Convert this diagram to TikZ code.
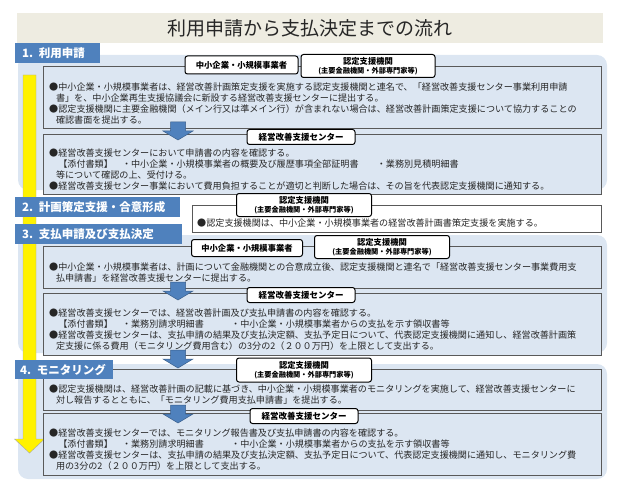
\documentclass[tikz,border=0pt]{standalone}
\usepackage{fontspec}
\setmainfont{Noto Sans CJK JP}
\definecolor{titelbg}{RGB}{238,236,225}
\definecolor{tabblau}{RGB}{79,129,189}
\definecolor{hellblau}{RGB}{220,230,242}
\definecolor{rahmen}{RGB}{89,89,89}
\definecolor{pfeilrand}{RGB}{56,93,138}
\begin{document}
\begin{tikzpicture}[x=1pt, y=-1pt,
    kasten/.style={draw=rahmen, line width=0.8pt, fill=hellblau},
    reiter/.style={fill=tabblau, text=white, font=\bfseries\fontsize{11.5}{13}\selectfont,
      inner xsep=7pt, inner ysep=0pt, minimum height=20pt, anchor=north west, align=left},
    etikett/.style={draw=black, line width=1pt, fill=white, rounded corners=2.5pt,
      font=\bfseries\fontsize{8.3}{9.5}\selectfont, inner sep=1pt, align=center},
    fliess/.style={anchor=west, inner sep=0pt, align=left, text=black!85,
      font=\fontsize{9.1}{11}\selectfont},
    blaupfeil/.style={fill=tabblau, draw=pfeilrand, line width=0.5pt}]
  \useasboundingbox (0,0) rectangle (620,489);

  % Titel
  \fill[titelbg] (17,13) rectangle (603,43);
  \node[font=\fontsize{19}{22}\selectfont, text=black!85] (titel) at (310,28) {利用申請から支払決定までの流れ};

  % Hintergrundflaechen
  \fill[hellblau, rounded corners=10pt] (18,55) rectangle (607,190);
  \fill[hellblau, rounded corners=10pt] (18,235) rectangle (607,353);
  \fill[hellblau, rounded corners=10pt] (18,364) rectangle (607,479);

  % gelber Pfeil links
  \filldraw[fill=yellow, draw=black!35, line width=0.4pt] (23,75) -- (36,75) -- (36,439)
    -- (44.5,439) -- (29.5,453) -- (14.5,439) -- (23,439) -- cycle;

  % Kaesten
  \draw[kasten] (43,66) rectangle (601,128);
  \draw[kasten] (43,134) rectangle (601,194);
  \draw[kasten, fill=white] (192,205) rectangle (601,232);
  \draw[kasten] (43,246) rectangle (601,288);
  \draw[kasten] (43,293) rectangle (601,355);
  \draw[kasten] (43,369) rectangle (601,410);
  \draw[kasten] (43,413) rectangle (601,475);

  % Reiter
  \node[reiter, text width=71pt] (r1) at (15,43) {1. 利用申請};
  \node[reiter, text width=151pt] (r2) at (15,197) {2. 計画策定支援・合意形成};
  \node[reiter, text width=153pt] (r3) at (15,224) {3. 支払申請及び支払決定};
  \node[reiter, text width=88pt, inner xsep=5pt, minimum height=19pt] (r4) at (15,360) {4. モニタリング};

  % blaue Pfeile
  \foreach \y in {122,282,350,405}
    \filldraw[blaupfeil] (170.5,\y) -- (185.5,\y) -- (185.5,\y+9) -- (193,\y+9)
      -- (178,\y+18) -- (163,\y+9) -- (170.5,\y+9) -- cycle;

  % Texte
  \node[fliess] (t1a) at (49,103.5) {●中小企業・小規模事業者は、経営改善計画策定支援を実施する認定支援機関と連名で、「経営改善支援センター事業利用申請\\
    \hspace*{0.75em}書」を、中小企業再生支援協議会に新設する経営改善支援センターに提出する。\\
    ●認定支援機関に主要金融機関（メイン行又は準メイン行）が含まれない場合は、経営改善計画策定支援について協力することの\\
    \hspace*{0.75em}確認書面を提出する。};
  \node[fliess] (t1b) at (49,169.5) {●経営改善支援センターにおいて申請書の内容を確認する。\\
    \hspace*{1em}【添付書類】　・中小企業・小規模事業者の概要及び履歴事項全部証明書　　・業務別見積明細書\\
    \hspace*{0.75em}等について確認の上、受付ける。\\
    ●経営改善支援センター事業において費用負担することが適切と判断した場合は、その旨を代表認定支援機関に通知する。};
  \node[fliess] (t2) at (197,223) {●認定支援機関は、中小企業・小規模事業者の経営改善計画書策定支援を実施する。};
  \node[fliess] (t3a) at (49,272.5) {●中小企業・小規模事業者は、計画について金融機関との合意成立後、認定支援機関と連名で「経営改善支援センター事業費用支\\
    \hspace*{0.75em}払申請書」を経営改善支援センターに提出する。};
  \node[fliess] (t3b) at (49,330) {●経営改善支援センターでは、経営改善計画及び支払申請書の内容を確認する。\\
    \hspace*{1em}【添付書類】　・業務別請求明細書　　　・中小企業・小規模事業者からの支払を示す領収書等\\
    ●経営改善支援センターは、支払申請の結果及び支払決定額、支払予定日について、代表認定支援機関に通知し、経営改善計画策\\
    \hspace*{0.75em}定支援に係る費用（モニタリング費用含む）の3分の2（２００万円）を上限として支出する。};
  \node[fliess] (t4a) at (49,394.5) {●認定支援機関は、経営改善計画の記載に基づき、中小企業・小規模事業者のモニタリングを実施して、経営改善支援センターに\\
    \hspace*{0.75em}対し報告するとともに、「モニタリング費用支払申請書」を提出する。};
  \node[fliess] (t4b) at (49,449.5) {●経営改善支援センターでは、モニタリング報告書及び支払申請書の内容を確認する。\\
    \hspace*{1em}【添付書類】　・業務別請求明細書　　　・中小企業・小規模事業者からの支払を示す領収書等\\
    ●経営改善支援センターは、支払申請の結果及び支払決定額、支払予定日について、代表認定支援機関に通知し、モニタリング費\\
    \hspace*{0.75em}用の3分の2（２００万円）を上限として支出する。};

  % Etiketten
  \node[etikett, minimum width=113pt, minimum height=18pt] (a1) at (241.5,65) {中小企業・小規模事業者};
  \node[etikett, minimum width=134pt, minimum height=23pt] (b1) at (368,66) {認定支援機関\\{\fontsize{7.2}{8.5}\selectfont (主要金融機関・外部専門家等)}};
  \node[etikett, minimum width=108pt, minimum height=15pt, font=\bfseries\fontsize{8.5}{10}\selectfont] (c1) at (301,137) {経営改善支援センター};
  \node[etikett, minimum width=135pt, minimum height=23pt] (b2) at (304,205) {認定支援機関\\{\fontsize{7.2}{8.5}\selectfont (主要金融機関・外部専門家等)}};
  \node[etikett, minimum width=111pt, minimum height=17pt] (a3) at (247,248) {中小企業・小規模事業者};
  \node[etikett, minimum width=135pt, minimum height=23pt] (b3) at (382,247) {認定支援機関\\{\fontsize{7.2}{8.5}\selectfont (主要金融機関・外部専門家等)}};
  \node[etikett, minimum width=108pt, minimum height=15pt, font=\bfseries\fontsize{8.5}{10}\selectfont] (c3) at (301,295) {経営改善支援センター};
  \node[etikett, minimum width=135pt, minimum height=24pt] (b4) at (304,370) {認定支援機関\\{\fontsize{7.2}{8.5}\selectfont (主要金融機関・外部専門家等)}};
  \node[etikett, minimum width=108pt, minimum height=15pt, font=\bfseries\fontsize{8.5}{10}\selectfont] (c4) at (304,416) {経営改善支援センター};
\end{tikzpicture}
\end{document}
